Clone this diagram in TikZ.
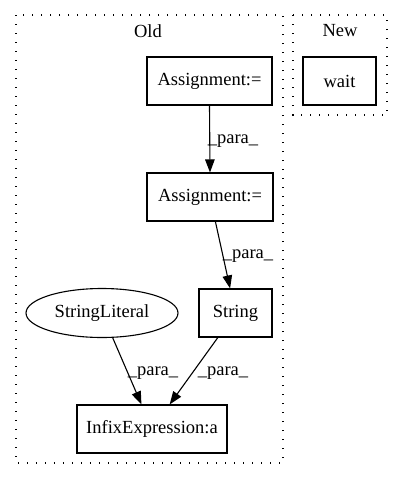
\documentclass[tikz,border=0pt]{standalone}
\usepackage{fontspec}
\setmainfont{Liberation Serif}
\usetikzlibrary{arrows.meta,shapes.geometric}
\begin{document}
\begin{tikzpicture}[x=1pt,y=-1pt,
  every node/.style={font=\fontsize{18.5}{20}\selectfont, inner sep=0pt},
  box/.style={draw, line width=1.1pt, rectangle, minimum height=48pt},
  oval/.style={draw, line width=1.1pt, ellipse, minimum width=152pt, minimum height=49pt},
  cluster/.style={draw, line width=1.2pt, dash pattern=on 1.4pt off 7.6pt},
  edge/.style={draw, line width=1.1pt, -{Triangle[length=13pt,width=9.5pt]}},
  lab/.style={font=\fontsize{18.5}{20}\selectfont}]
\useasboundingbox (0,0) rectangle (403,480);
\fill[white] (0,0) rectangle (403,480);
% clusters
\draw[cluster] (16,15) rectangle (283,463);
\draw[cluster] (293,15) rectangle (387,115);
\node (old) at (148,31) {Old};
\node (new) at (340,31) {New};
% nodes
\node[box, minimum width=125pt] (a1) at (209.5,81) {Assignment:=};
\node[box, minimum width=73pt] (wait) at (339.5,81) {wait};
\node[box, minimum width=126pt] (a2) at (210,197) {Assignment:=};
\node[box, minimum width=73pt] (str) at (235.5,313) {String};
\node[oval] (sl) at (102,313) {StringLiteral};
\node[box, minimum width=150pt] (infix) at (152,429) {InfixExpression:a};
% edges
\draw[edge] (a1.south) -- (a2.north);
\draw[edge] (a2) -- (str);
\draw[edge] (sl) -- (infix);
\draw[edge] (str) -- (infix);
% labels
\node[lab] (l1) at (233,141) {\_para\_};
\node[lab] (l2) at (248,256) {\_para\_};
\node[lab] (l3) at (153,373) {\_para\_};
\node[lab] (l4) at (223,373) {\_para\_};
\end{tikzpicture}
\end{document}
